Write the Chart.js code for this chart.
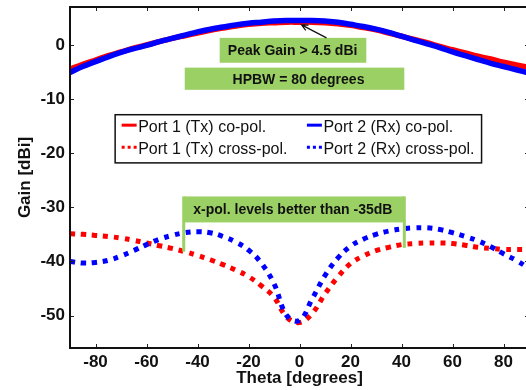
<!DOCTYPE html>
<html>
<head>
<meta charset="utf-8">
<script src="https://cdn.jsdelivr.net/npm/chart.js@4.4.0/dist/chart.umd.min.js"></script>
<style>
  html, body { margin: 0; padding: 0; background: #fff; overflow: hidden; }
  #wrap { width: 532px; height: 390px; }
</style>
</head>
<body>
<div id="wrap"><canvas id="gainChart" width="532" height="390"></canvas></div>
<script>
// measured radiation pattern, theta in degrees, gain in dBi
var theta = [-90,-85,-80,-75,-70,-65,-60,-55,-50,-45,-40,-35,-30,-25,-20,-15,-10,-5,0,
             5,10,15,20,25,30,35,40,45,50,55,60,65,70,75,80,85,90];

var txCo = [-4.5,-3.6,-2.8,-2.0,-1.3,-0.6,0.0,0.6,1.2,1.7,2.2,2.7,3.1,3.5,3.8,4.0,4.1,4.2,4.2,
            4.2,4.1,3.9,3.6,3.2,2.8,2.2,1.6,1.0,0.4,-0.3,-0.9,-1.5,-2.1,-2.6,-3.2,-3.7,-4.2];
var rxCo = [-5.1,-4.0,-3.1,-2.2,-1.4,-0.7,-0.1,0.6,1.2,1.8,2.4,2.9,3.3,3.7,4.0,4.2,4.4,4.5,4.5,
            4.5,4.4,4.2,3.8,3.4,2.9,2.3,1.6,0.9,0.2,-0.5,-1.3,-2.0,-2.7,-3.4,-4.0,-4.6,-5.2];
var txCross = [-34.9,-35.0,-35.2,-35.4,-35.7,-36.1,-36.6,-37.1,-37.6,-38.2,-38.9,-39.7,-40.6,-41.6,-42.8,-44.5,-46.6,-50.3,-51.3,
               -49.6,-46.0,-42.9,-40.4,-39.0,-38.0,-37.4,-36.9,-36.7,-36.6,-36.6,-36.7,-37.0,-37.4,-37.6,-37.8,-37.8,-37.8];
var rxCross = [-40.0,-40.3,-40.2,-39.8,-39.0,-38.0,-36.9,-35.9,-35.2,-34.7,-34.5,-34.7,-35.4,-36.4,-37.9,-40.3,-44.1,-50.0,-50.9,
               -46.9,-42.6,-39.4,-37.2,-35.9,-35.0,-34.4,-34.0,-33.8,-33.8,-34.1,-34.7,-35.4,-36.2,-37.3,-38.6,-39.8,-41.3];

var xTicks = [-80,-60,-40,-20,0,20,40,60,80];
var yTicks = [-50,-40,-30,-20,-10,0];

var seriesNames = ['Port 1 (Tx) co-pol.', 'Port 1 (Tx) cross-pol.', 'Port 2 (Rx) co-pol.', 'Port 2 (Rx) cross-pol.'];

// green call-out boxes, in data units (theta, dBi)
var notes = [
  { text: 'Peak Gain > 4.5 dBi', x0: -31.3, x1: 26.2, y0: 1.3, y1: -3.3, tx: -2.7 },
  { text: 'HPBW = 80 degrees', x0: -45, x1: 41.1, y0: -4.2, y1: -8.3, tx: -0.4 },
  { text: 'x-pol. levels better than -35dB', x0: -45.4, x1: 41.1, y0: -28.0, y1: -32.8, tx: -2.6, stemL: -38.2, stemR: -37.5 }
];

var FONT = "'Liberation Sans', Arial, Helvetica, sans-serif";
var RED = '#ff0000', BLUE = '#0000ff', GREEN = '#9bd064';

function pts(vals) {
  return theta.map(function(t, i) { return { x: t, y: vals[i] }; });
}

var decorations = {
  id: 'decorations',
  afterDatasetsDraw: function(chart) {
    var ctx = chart.ctx, a = chart.chartArea;
    var xs = chart.scales.x, ys = chart.scales.y;
    var X = function(v) { return xs.getPixelForValue(v); };
    var Y = function(v) { return ys.getPixelForValue(v); };
    ctx.save();

    // inward tick marks on all four sides
    ctx.strokeStyle = '#222';
    ctx.lineWidth = 1;
    ctx.beginPath();
    xTicks.forEach(function(v) {
      var px = Math.round(X(v)) + 0.5;
      ctx.moveTo(px, a.top); ctx.lineTo(px, a.top + 4);
      ctx.moveTo(px, a.bottom); ctx.lineTo(px, a.bottom - 4);
    });
    yTicks.forEach(function(v) {
      var py = Math.round(Y(v)) + 0.5;
      ctx.moveTo(a.left, py); ctx.lineTo(a.left + 4, py);
      ctx.moveTo(a.right, py); ctx.lineTo(a.right - 4, py);
    });
    ctx.stroke();

    // frame
    ctx.lineWidth = 2;
    ctx.strokeStyle = '#111';
    ctx.strokeRect(a.left, a.top, a.right - a.left, a.bottom - a.top);

    // call-outs
    ctx.font = 'bold 14px ' + FONT;
    ctx.textAlign = 'center';
    ctx.textBaseline = 'middle';
    notes.forEach(function(n) {
      var l = X(n.x0), r = X(n.x1), t = Y(n.y0), b = Y(n.y1);
      ctx.fillStyle = GREEN;
      ctx.fillRect(l, t, r - l, b - t);
      if (n.stemL !== undefined) {
        ctx.fillRect(l - 1.5, t, 3, Y(n.stemL) - t);
        ctx.fillRect(r - 1.5, t, 3, Y(n.stemR) - t);
      }
      ctx.fillStyle = '#111';
      ctx.fillText(n.text, X(n.tx), (t + b) / 2 + 1);
    });

    // arrow to the peak
    var ax0 = X(10.6), ay0 = Y(1.3), ax1 = X(0.8), ay1 = Y(3.7);
    var ang = Math.atan2(ay1 - ay0, ax1 - ax0);
    ctx.strokeStyle = '#111';
    ctx.lineWidth = 1.2;
    ctx.beginPath();
    ctx.moveTo(ax0, ay0); ctx.lineTo(ax1, ay1);
    ctx.moveTo(ax1 - 7 * Math.cos(ang - 0.45), ay1 - 7 * Math.sin(ang - 0.45));
    ctx.lineTo(ax1, ay1);
    ctx.lineTo(ax1 - 7 * Math.cos(ang + 0.45), ay1 - 7 * Math.sin(ang + 0.45));
    ctx.stroke();

    // legend box
    var lx0 = X(-72.3), lx1 = X(71.4), ly0 = Y(-12.9), ly1 = Y(-21.8);
    ctx.fillStyle = '#fff';
    ctx.fillRect(lx0, ly0, lx1 - lx0, ly1 - ly0);
    ctx.lineWidth = 1.5;
    ctx.strokeStyle = '#111';
    ctx.strokeRect(lx0, ly0, lx1 - lx0, ly1 - ly0);

    var cols = [lx0 + 6.5, X(2.9)];
    var rows = [Y(-15.2), Y(-19.3)];
    ctx.font = '16px ' + FONT;
    ctx.textAlign = 'left';
    chart.data.datasets.forEach(function(ds) {
      var c = ds.legendPos[0], rw = ds.legendPos[1];
      var sx = cols[c], sy = rows[rw] - 2;
      ctx.strokeStyle = ds.borderColor;
      ctx.lineWidth = 3;
      ctx.setLineDash(ds.borderDash && ds.borderDash.length ? [3, 3] : []);
      ctx.beginPath();
      ctx.moveTo(sx, sy); ctx.lineTo(sx + 15, sy);
      ctx.stroke();
      ctx.setLineDash([]);
      ctx.fillStyle = '#111';
      ctx.fillText(ds.label, sx + 16.5, rows[rw]);
    });

    ctx.restore();
  }
};

var ctx = document.getElementById('gainChart').getContext('2d');
var gainChart = new Chart(ctx, {
  type: 'line',
  data: {
    datasets: [
      { label: seriesNames[0], data: pts(txCo), borderColor: RED, borderWidth: 5.5, order: 3, legendPos: [0, 0] },
      { label: seriesNames[1], data: pts(txCross), borderColor: RED, borderWidth: 5, borderDash: [5, 6], order: 2, legendPos: [0, 1] },
      { label: seriesNames[2], data: pts(rxCo), borderColor: BLUE, borderWidth: 5.5, order: 1, legendPos: [1, 0] },
      { label: seriesNames[3], data: pts(rxCross), borderColor: BLUE, borderWidth: 5, borderDash: [5, 6], order: 0, legendPos: [1, 1] }
    ]
  },
  options: {
    responsive: false,
    animation: false,
    layout: { padding: { top: 7, right: 3, left: 0, bottom: 0 } },
    elements: {
      point: { radius: 0 },
      line: { tension: 0.4, fill: false, borderCapStyle: 'butt' }
    },
    plugins: { legend: { display: false }, tooltip: { enabled: false } },
    scales: {
      x: {
        type: 'linear',
        min: -90,
        max: 90,
        grid: { display: false, drawTicks: false },
        border: { display: false },
        afterBuildTicks: function(s) { s.ticks = xTicks.map(function(v) { return { value: v }; }); },
        afterFit: function(s) { s.height = 42; s.paddingLeft = 0; s.paddingRight = 0; },
        ticks: { color: '#111', padding: 4, maxRotation: 0, font: { family: FONT, size: 17, weight: 'bold' } },
        title: { display: true, text: 'Theta [degrees]', color: '#111', padding: { top: 0, bottom: 1 },
                 font: { family: FONT, size: 17, weight: 'bold' } }
      },
      y: {
        type: 'linear',
        min: -56,
        max: 7,
        grid: { display: false, drawTicks: false },
        border: { display: false },
        afterBuildTicks: function(s) { s.ticks = yTicks.map(function(v) { return { value: v }; }); },
        afterFit: function(s) { s.width = 70; s.paddingTop = 0; s.paddingBottom = 0; },
        ticks: { color: '#111', padding: 5, font: { family: FONT, size: 17, weight: 'bold' } },
        title: { display: true, text: 'Gain [dBi]', color: '#111', padding: { top: 15, bottom: 0 },
                 font: { family: FONT, size: 17, weight: 'bold' } }
      }
    }
  },
  plugins: [decorations]
});
</script>
</body>
</html>
